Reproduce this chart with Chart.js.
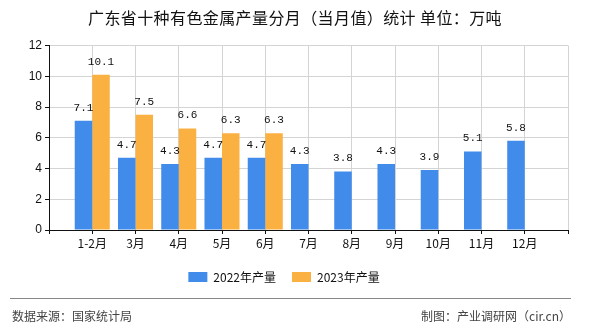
<!DOCTYPE html>
<html>
<head>
<meta charset="utf-8">
<script src="https://cdn.jsdelivr.net/npm/chart.js@4/dist/chart.umd.min.js"></script>
<style>
  html, body { margin: 0; padding: 0; background: #fff; }
  #wrap { position: relative; width: 590px; height: 330px; overflow: hidden;
          font-family: "Noto Sans CJK SC", "Noto Sans", sans-serif; }
  #chart { position: absolute; left: 0; top: 0; }
  .title { position: absolute; left: 0; top: 7px; width: 590px; text-align: center;
           font-size: 16px; letter-spacing: 0.4px; line-height: 20px; color: #111; }
  .rule { position: absolute; left: 10px; top: 298px; width: 561px; height: 1px; background: #888; }
  .src { position: absolute; top: 308px; font-size: 12px; line-height: 16px; color: #444; }
  .src.l { left: 12px; }
  .src.r { right: 19px; }
</style>
</head>
<body>
<div id="wrap">
  <canvas id="chart" width="590" height="330"></canvas>
  <div class="title">广东省十种有色金属产量分月（当月值）统计 单位：万吨</div>
  <div class="rule"></div>
  <div class="src l">数据来源：国家统计局</div>
  <div class="src r">制图：产业调研网（cir.cn）</div>
</div>
<script>
// months shown on the x axis
const months = ["1-2月", "3月", "4月", "5月", "6月", "7月", "8月", "9月", "10月", "11月", "12月"];
// monthly output, 10k tonnes
const out2022 = [7.1, 4.7, 4.3, 4.7, 4.7, 4.3, 3.8, 4.3, 3.9, 5.1, 5.8];
const out2023 = [10.1, 7.5, 6.6, 6.3, 6.3, null, null, null, null, null, null];
const yTicks = [0, 2, 4, 6, 8, 10, 12];

const BLUE = "#418BEA";
const ORANGE = "#FBB142";

// blank slot at each end so bars sit on the grid lines
const labels = ["", ...months, ""];
const pad = (arr) => [null, ...arr, null];

// value text above each bar
const valueLabels = {
  id: "valueLabels",
  afterDatasetsDraw(chart) {
    const ctx = chart.ctx;
    ctx.save();
    ctx.font = "11px 'Liberation Mono', 'DejaVu Sans Mono', monospace";
    ctx.fillStyle = "#111";
    ctx.textAlign = "center";
    ctx.textBaseline = "middle";
    chart.data.datasets.forEach((ds, i) => {
      chart.getDatasetMeta(i).data.forEach((bar, j) => {
        const v = ds.data[j];
        if (v == null) return;
        ctx.fillText(v.toFixed(1), bar.x, bar.y - 13);
      });
    });
    ctx.restore();
  }
};

new Chart(document.getElementById("chart"), {
  type: "bar",
  data: {
    labels: labels,
    datasets: [
      { label: "2022年产量", data: pad(out2022), backgroundColor: BLUE },
      { label: "2023年产量", data: pad(out2023), backgroundColor: ORANGE }
    ]
  },
  options: {
    responsive: false,
    animation: false,
    events: [],
    layout: { padding: { left: 0, right: 22, top: 45.5, bottom: 37 } },
    datasets: { bar: { barPercentage: 1, categoryPercentage: 0.81 } },
    plugins: {
      legend: {
        position: "bottom",
        labels: {
          boxWidth: 19,
          boxHeight: 10,
          padding: 16,
          color: "#111",
          font: { size: 12, family: "'Noto Sans CJK SC', sans-serif" }
        }
      },
      tooltip: { enabled: false }
    },
    scales: {
      x: {
        offset: false,
        afterFit(scale) { scale.height = 25; },
        grid: { color: "#d4d4d4", offset: false, tickColor: "#111", tickLength: 4 },
        border: { color: "#111", width: 1 },
        ticks: {
          autoSkip: false, maxRotation: 0, padding: 2, color: "#111",
          font: { size: 12, family: "'Noto Sans CJK SC', sans-serif" }
        }
      },
      y: {
        min: 0,
        max: 12,
        afterBuildTicks(scale) { scale.ticks = yTicks.map(v => ({ value: v })); },
        afterFit(scale) { scale.width = 49; },
        grid: { color: "#d4d4d4", tickColor: "#111", tickLength: 4 },
        border: { color: "#111", width: 1 },
        ticks: {
          padding: 3, color: "#111",
          font: { size: 12, family: "'Liberation Sans', sans-serif" }
        }
      }
    }
  },
  plugins: [valueLabels]
});
</script>
</body>
</html>
